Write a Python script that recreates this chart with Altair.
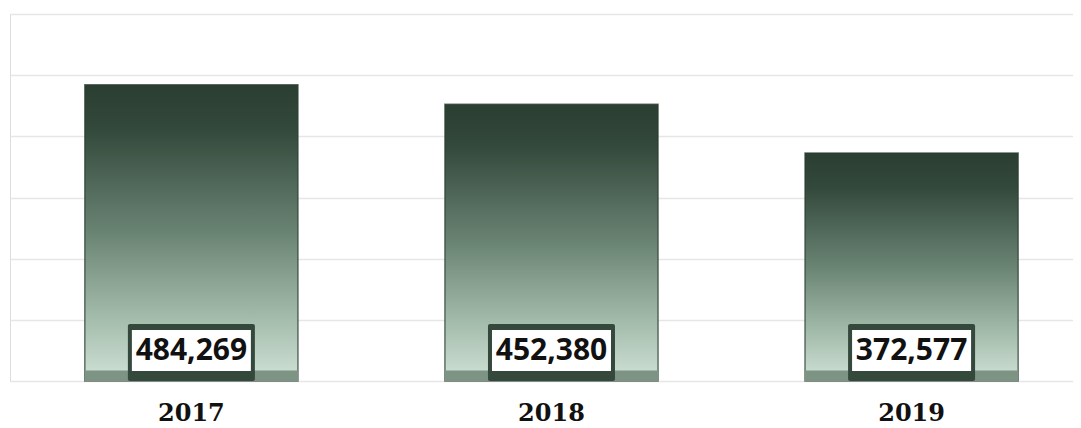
import altair as alt
import pandas as pd

years = ["2017", "2018", "2019"]
values = [484269, 452380, 372577]
labels = ["484,269", "452,380", "372,577"]
grid_values = [0, 100000, 200000, 300000, 400000, 500000, 600000]

df = pd.DataFrame({"year": years, "value": values, "label": labels, "base": [0] * 3, "strip": [17000] * 3})

x_scale = alt.Scale(paddingInner=0.408, paddingOuter=0.18, align=0.577)
y_scale = alt.Scale(domain=[0, 600000], nice=False, zero=True)

x_enc = alt.X("year:N", scale=x_scale, sort=years,
              axis=alt.Axis(title=None, labelAngle=0, ticks=False, domain=False,
                            labelFont="DejaVu Serif", labelFontWeight="bold",
                            labelFontSize=24, labelColor="#111111", labelPadding=20,
                            grid=False))

grad = alt.Gradient(
    gradient="linear", x1=0, x2=0, y1=0, y2=1,
    stops=[
        alt.GradientStop(color="#2a3e31", offset=0),
        alt.GradientStop(color="#33493b", offset=0.15),
        alt.GradientStop(color="#6a8474", offset=0.5),
        alt.GradientStop(color="#a6beae", offset=0.8),
        alt.GradientStop(color="#d0e2d6", offset=1),
    ],
)

bars = alt.Chart(df).mark_bar(color=grad, stroke="#2a3c30", strokeWidth=1.5, strokeOpacity=0.7).encode(
    x=x_enc,
    y=alt.Y("value:Q", scale=y_scale,
            axis=alt.Axis(title=None, labels=False, ticks=False, domain=False,
                          values=grid_values, gridColor="#e6e6e6", gridWidth=1.5)),
    y2="base:Q",
)

strip = alt.Chart(df).mark_bar(color="#7d9383").encode(
    x=alt.X("year:N", scale=x_scale, sort=years),
    y=alt.Y("strip:Q", scale=y_scale),
    y2="base:Q",
)

box_outer = alt.Chart(df).mark_bar(color="#34493c", size=127, cornerRadius=2).encode(
    x=alt.X("year:N", scale=x_scale, sort=years),
    y=alt.value(310),
    y2=alt.value(367),
)

box_inner = alt.Chart(df).mark_bar(color="#ffffff", size=119).encode(
    x=alt.X("year:N", scale=x_scale, sort=years),
    y=alt.value(316),
    y2=alt.value(357),
)

text = alt.Chart(df).mark_text(font="Open Sans", fontWeight="bold", fontSize=30,
                               color="#111111", baseline="middle").encode(
    x=alt.X("year:N", scale=x_scale, sort=years),
    y=alt.value(337),
    text="label:N",
)

chart = alt.layer(bars, strip, box_outer, box_inner, text).properties(
    width=1063, height=367,
    autosize=alt.AutoSizeParams(type="none"),
    padding={"left": 2, "top": 6, "right": 0, "bottom": 46},
).configure_view(stroke=None).configure(background="#ffffff")

chart.save("out.html", embed_options={"renderer": "svg", "actions": False})
